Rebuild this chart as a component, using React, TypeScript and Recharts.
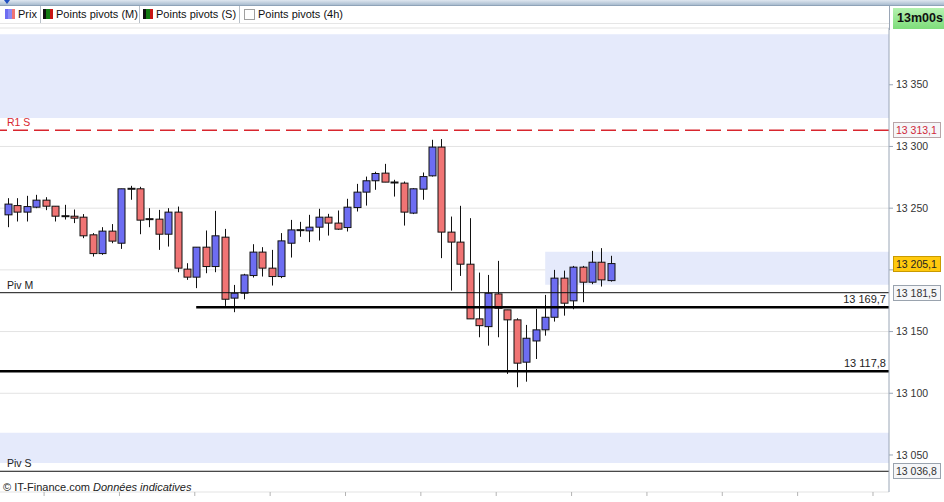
import React from 'react';
import { ComposedChart, Bar, XAxis, YAxis, CartesianGrid, ReferenceLine, ReferenceArea } from 'recharts';

// 1-minute candles
const OPEN = [
  13244.6, 13252.1, 13246.8, 13250.8, 13256.5, 13251.6, 13243.5, 13243.5, 13242.7, 13228.4,
  13213.2, 13231.4, 13221.6, 13265.7, 13265.7, 13241.1, 13241.1, 13228.9, 13246.8, 13200.6,
  13194.1, 13218.4, 13202.7, 13226.5, 13177.1, 13181.1, 13195.4, 13214.4, 13201.4, 13194.6,
  13221.6, 13232.2, 13231.6, 13234.6, 13242.7, 13237.9, 13234.3, 13250.5, 13263.0, 13272.2,
  13278.4, 13270.8, 13270.3, 13246.0, 13265.4, 13276.2, 13299.5, 13230.6, 13222.5, 13204.6,
  13160.3, 13154.0, 13180.5, 13167.6, 13159.5, 13125.2, 13142.4, 13151.4, 13161.6, 13193.3,
  13174.9, 13202.2, 13190.0, 13206.2, 13191.3,
];
const HIGH = [
  13258.1, 13258.1, 13260.0, 13260.8, 13258.9, 13251.6, 13252.7, 13248.9, 13245.2, 13229.8,
  13234.6, 13237.1, 13265.7, 13268.1, 13267.3, 13250.0, 13248.6, 13250.0, 13251.3, 13205.4,
  13218.4, 13231.9, 13247.8, 13233.2, 13187.8, 13196.8, 13220.8, 13218.4, 13216.2, 13229.8,
  13240.5, 13238.9, 13244.6, 13249.5, 13245.4, 13248.1, 13257.6, 13269.7, 13275.6, 13279.5,
  13285.9, 13273.0, 13271.6, 13266.2, 13278.9, 13305.4, 13306.0, 13243.2, 13251.9, 13241.9,
  13197.8, 13195.9, 13207.3, 13167.6, 13160.8, 13155.4, 13168.4, 13179.7, 13200.0, 13199.4,
  13203.2, 13203.2, 13215.4, 13217.6, 13211.4,
];
const LOW = [
  13234.6, 13239.2, 13239.2, 13250.0, 13248.4, 13239.2, 13240.8, 13237.9, 13225.7, 13210.8,
  13212.2, 13221.6, 13217.0, 13256.8, 13228.9, 13234.6, 13216.2, 13218.9, 13198.1, 13191.9,
  13185.2, 13197.3, 13198.1, 13170.8, 13165.7, 13176.2, 13193.8, 13194.6, 13187.3, 13193.3,
  13210.0, 13226.8, 13222.5, 13223.8, 13227.8, 13232.4, 13231.1, 13247.3, 13252.1, 13264.9,
  13271.1, 13259.4, 13235.9, 13245.2, 13256.8, 13275.6, 13209.5, 13183.2, 13195.1, 13160.3,
  13145.4, 13138.6, 13145.4, 13115.7, 13104.9, 13109.4, 13127.8, 13146.7, 13158.1, 13162.9,
  13168.1, 13173.8, 13188.4, 13186.5, 13190.5,
];
const CLOSE = [
  13253.3, 13246.8, 13251.3, 13256.5, 13251.6, 13243.5, 13243.3, 13241.9, 13227.6, 13213.2,
  13231.4, 13223.3, 13265.7, 13265.7, 13240.3, 13241.1, 13228.9, 13246.8, 13201.4, 13194.1,
  13218.4, 13202.7, 13227.6, 13176.2, 13181.1, 13195.9, 13214.4, 13201.4, 13194.6, 13223.5,
  13232.4, 13232.0, 13234.6, 13242.7, 13237.9, 13233.0, 13250.8, 13263.0, 13272.2, 13278.1,
  13271.1, 13270.7, 13246.8, 13265.7, 13275.6, 13299.5, 13230.6, 13222.5, 13204.6, 13160.3,
  13154.8, 13181.1, 13168.9, 13159.5, 13124.4, 13144.6, 13151.4, 13161.6, 13193.3, 13173.0,
  13202.2, 13190.0, 13206.2, 13191.9, 13205.1,
];

const Y_TICKS = [13050, 13100, 13150, 13200, 13250, 13300, 13350];
const X_TICKS = [3.8, 11.8, 19.8, 27.8, 35.8, 43.8, 51.8, 59.8, 67.8, 75.8, 83.8, 91.8];

const R1_S = 13313.1;
const PIV_M = 13181.5;
const PIV_S = 13036.8;
const LAST = 13205.1;
const LEVEL_A = 13169.7;
const LEVEL_A_FROM = 19.95;
const LEVEL_B = 13117.8;
const BANDS = [
  { y1: 13323, y2: 13391 },
  { y1: 13043.5, y2: 13068 },
];
const ZONE = { x1: 57, y1: 13188, y2: 13214.6 };

const FONT = '"Liberation Sans", Arial, sans-serif';
const UP = '#6d6df2';
const DOWN = '#f07474';
const BAND = '#e5eafb';

const data = OPEN.map((o, i) => ({ i, o, h: HIGH[i], l: LOW[i], c: CLOSE[i], range: [LOW[i], HIGH[i]] }));

const fmt = (v: number, dec = 0) => {
  const s = v.toFixed(dec).replace('.', ',');
  return s.slice(0, 2) + ' ' + s.slice(2);
};

function Candle(props: any) {
  const { x, y, width, height, payload } = props;
  if (!payload) return null;
  const { o, h, l, c } = payload;
  const top = Math.min(y, y + height);
  const hgt = Math.abs(height);
  const k = hgt / (h - l || 1);
  const cx = Math.round(x + width / 2) + 0.5;
  const yO = top + (h - o) * k;
  const yC = top + (h - c) * k;
  const bodyTop = Math.min(yO, yC);
  const bodyH = Math.abs(yO - yC);
  const flat = bodyH < 1.5;
  return (
    <g>
      <line x1={cx} x2={cx} y1={top} y2={top + hgt} stroke="#111" strokeWidth={1} />
      {flat ? (
        <line x1={cx - 4} x2={cx + 4} y1={yO} y2={yO} stroke="#111" strokeWidth={2} />
      ) : (
        <rect x={cx - 3.5} y={bodyTop} width={7} height={bodyH} fill={c > o ? UP : DOWN} stroke="#111" strokeWidth={1} />
      )}
    </g>
  );
}

function LineTag(props: any) {
  const { viewBox, left, leftColor = '#222', inside, box, boxFill = '#f5f6f8', boxStroke = '#9aa3ae', boxColor = '#333' } = props;
  if (!viewBox) return null;
  const { x, y, width } = viewBox;
  const right = x + width;
  return (
    <g style={{ fontFamily: FONT }}>
      {left && <text x={7} y={y - 4} fontSize={10.5} fill={leftColor}>{left}</text>}
      {inside && <text x={right - 3} y={y - 4} fontSize={11} fill="#222" textAnchor="end">{inside}</text>}
      {box && (
        <g>
          <rect x={right + 4.5} y={Math.round(y) - 7.5} width={47} height={15} fill={boxFill} stroke={boxStroke} />
          <text x={right + 7} y={Math.round(y) + 4} fontSize={10.5} fill={boxColor}>{box}</text>
        </g>
      )}
    </g>
  );
}

function Header() {
  const item = (left: number, icon: React.ReactNode, label: string) => (
    <div style={{ position: 'absolute', left, top: 8, display: 'flex', alignItems: 'center', gap: 3, fontSize: 11, color: '#111', whiteSpace: 'nowrap' }}>
      {icon}
      <span>{label}</span>
    </div>
  );
  const stripes = (cols: string[]) => (
    <div style={{ width: 10, height: 10, display: 'flex' }}>
      {cols.map((col, i) => <div key={i} style={{ flex: 1, background: col }} />)}
    </div>
  );
  const sep = (left: number) => <div style={{ position: 'absolute', left, top: 6, width: 1, height: 17, background: '#b8c0c8' }} />;
  return (
    <div style={{ position: 'absolute', left: 0, top: 0, width: 944, height: 30, fontFamily: FONT, pointerEvents: 'none' }}>
      <div style={{ position: 'absolute', left: 0, top: 0, width: 944, height: 5, background: 'linear-gradient(#dfe7f0, #a9bccf)', borderBottom: '1px solid #8fa3b8' }} />
      <div style={{ position: 'absolute', left: 4, top: 0, width: 0, height: 0, borderLeft: '3px solid transparent', borderRight: '3px solid transparent', borderTop: '4px solid #2050c0' }} />
      {item(5, stripes([UP, '#8a8af4', DOWN]), 'Prix')}
      {sep(40)}
      {item(43, stripes(['#111', '#137a13', '#c81414']), 'Points pivots (M)')}
      {sep(139)}
      {item(143, stripes(['#111', '#137a13', '#c81414']), 'Points pivots (S)')}
      {sep(239)}
      {item(244, <div style={{ width: 9, height: 9, border: '1px solid #a0a0a0', background: '#fff' }} />, 'Points pivots (4h)')}
      <div style={{ position: 'absolute', left: 0, top: 23, width: 889, height: 1, background: '#e6e6e6' }} />
      <div style={{ position: 'absolute', left: 889, top: 6, width: 1, height: 24, background: '#9aa6b6' }} />
      <div style={{ position: 'absolute', left: 893, top: 8, width: 51, height: 21, background: 'linear-gradient(#b4f2b0, #7edc7a)', fontWeight: 700, fontSize: 12.5, lineHeight: '21px', paddingLeft: 4, boxSizing: 'border-box', color: '#111' }}>13m00s</div>
    </div>
  );
}

export default function App() {
  return (
    <div style={{ position: 'fixed', left: 0, top: 0, width: 944, height: 502, background: '#fff', overflow: 'hidden' }}>
      <ComposedChart width={944} height={502} data={data} margin={{ top: 28, right: 0, bottom: 0, left: 0 }}>
        {BANDS.map((b, i) => (
          <ReferenceArea key={i} y1={b.y1} y2={b.y2} fill={BAND} fillOpacity={1} stroke="none" ifOverflow="visible" />
        ))}
        <ReferenceArea x1={ZONE.x1} y1={ZONE.y1} y2={ZONE.y2} fill={BAND} fillOpacity={1} stroke="none" ifOverflow="visible" />
        <CartesianGrid vertical={false} stroke="#e3e3e3" />
        <XAxis type="number" dataKey="i" domain={[-0.88, 93.5]} ticks={X_TICKS} allowDataOverflow
          axisLine={false} tickLine={{ stroke: '#b4b4b4' }} tickSize={4} height={10} tickFormatter={() => ''} />
        {/* the 13 200 label sits under the last-price box, so it is left blank */}
        <YAxis orientation="right" width={55} domain={[13020, 13396]} ticks={Y_TICKS} interval={0} allowDataOverflow
          axisLine={{ stroke: '#9aa6b6' }} tickLine={{ stroke: '#9aa6b6' }} tickSize={4} tickMargin={3}
          tick={{ fill: '#333', fontSize: 10.5, fontFamily: FONT }} tickFormatter={(v) => (Math.abs(v - LAST) < 10 ? '' : fmt(v))} />
        <ReferenceLine y={R1_S} stroke="#d8262e" strokeWidth={1.5} strokeDasharray="15 6" ifOverflow="visible"
          label={<LineTag left="R1 S" leftColor="#d8262e" box={fmt(R1_S, 1)} boxColor="#d0283a" boxStroke="#b9a5a8" />} />
        <ReferenceLine y={PIV_M} stroke="#111" strokeWidth={1} label={<LineTag left="Piv M" box={fmt(PIV_M, 1)} />} />
        <ReferenceLine y={PIV_S} stroke="#111" strokeWidth={1} label={<LineTag left="Piv S" box={fmt(PIV_S, 1)} />} />
        <ReferenceLine segment={[{ x: LEVEL_A_FROM, y: LEVEL_A }, { x: 93.5, y: LEVEL_A }]} stroke="#000" strokeWidth={2.5} />
        <ReferenceLine y={LEVEL_A} stroke="none" label={<LineTag inside={fmt(LEVEL_A, 1)} />} />
        <ReferenceLine y={LEVEL_B} stroke="#000" strokeWidth={2.5} label={<LineTag inside={fmt(LEVEL_B, 1)} />} />
        <ReferenceLine y={LAST} stroke="none" label={<LineTag box={fmt(LAST, 1)} boxFill="#ffc90e" boxStroke="#c99a00" boxColor="#222" />} />
        <Bar dataKey="range" barSize={7} shape={<Candle />} isAnimationActive={false} />
      </ComposedChart>
      <Header />
      <div style={{ position: 'absolute', left: 3, top: 481, fontFamily: FONT, fontSize: 11, color: '#222' }}>
        © IT-Finance.com <i>Données indicatives</i>
      </div>
    </div>
  );
}
